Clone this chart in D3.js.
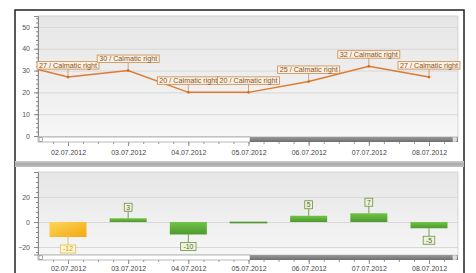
<!DOCTYPE html>
<html>
<head>
<meta charset="utf-8">
<script src="https://cdn.jsdelivr.net/npm/d3@7"></script>
<style>
  html, body { margin: 0; padding: 0; background: #fff; }
  svg { display: block; font-family: "Liberation Sans", Arial, sans-serif; }
</style>
</head>
<body>
<svg width="476" height="273"></svg>
<script>
// ---- data ----
const lineDates = ['01.07.2012', '02.07.2012', '03.07.2012', '04.07.2012', '05.07.2012', '06.07.2012', '07.07.2012', '08.07.2012'];
const lineValues = [34, 27, 30, 20, 20, 25, 32, 27];
const lineLabelSuffix = ' / Calmatic right';
const barDates = ['02.07.2012', '03.07.2012', '04.07.2012', '05.07.2012', '06.07.2012', '07.07.2012', '08.07.2012'];
const barValues = [-12, 3, -10, 0, 5, 7, -5];
const barKinds = ['warn', 'ok', 'ok', 'ok', 'ok', 'ok', 'ok'];
const topTicks = [0, 10, 20, 30, 40, 50];
const bottomTicks = [-20, 0, 20];
const tickDates = ['02.07.2012', '03.07.2012', '04.07.2012', '05.07.2012', '06.07.2012', '07.07.2012', '08.07.2012'];

const parse = d3.timeParse('%d.%m.%Y');
const fmt = d3.timeFormat('%d.%m.%Y');

const svg = d3.select('svg');
const defs = svg.append('defs');

function grad(id, stops, x2 = 0, y2 = 1) {
  const g = defs.append('linearGradient').attr('id', id)
    .attr('x1', 0).attr('y1', 0).attr('x2', x2).attr('y2', y2);
  stops.forEach(([o, c]) => g.append('stop').attr('offset', o).attr('stop-color', c));
}
grad('plotBg', [[0, '#e6e6e6'], [1, '#f6f6f6']]);
grad('sep', [[0, '#d0d0d0'], [0.5, '#a8a8a8'], [1, '#c4c4c4']]);
grad('scrollDark', [[0, '#9a9a9a'], [1, '#6e6e6e']]);
grad('green', [[0, '#72c24a'], [1, '#4c9a2c']]);
grad('yellow', [[0, '#fcd65a'], [1, '#f4a810']], 1, 1);

const L = 38, R = 458;

// outer frame
svg.append('rect')
  .attr('x', 15).attr('y', 10).attr('width', 449).attr('height', 280)
  .attr('fill', '#fff').attr('stroke', '#222').attr('stroke-width', 1.5);

const x = d3.scaleTime()
  .domain([parse('02.07.2012'), parse('08.07.2012')])
  .range([68, 429]);

function panel(top, bottom, y, yTicks, minorStep, labelY, clipId) {
  const g = svg.append('g');
  g.append('rect').attr('x', L).attr('y', top).attr('width', R - L).attr('height', bottom - top)
    .attr('fill', 'url(#plotBg)').attr('stroke', '#d4d4d4');
  g.append('clipPath').attr('id', clipId).append('rect')
    .attr('x', L).attr('y', top).attr('width', R - L).attr('height', bottom - top);

  // grid
  g.append('g').selectAll('line').data(yTicks).join('line')
    .attr('x1', L).attr('x2', R).attr('y1', d => y(d) + 0.5).attr('y2', d => y(d) + 0.5)
    .attr('stroke', '#d8d8d8');

  // y axis
  const ya = g.append('g').attr('transform', `translate(${L},0)`)
    .call(d3.axisLeft(y).tickValues(yTicks).tickSize(4).tickPadding(4));
  const [d0, d1] = y.domain();
  const minors = d3.range(Math.ceil(d0 / minorStep) * minorStep, d1, minorStep);
  ya.call(a => a.append('g').selectAll('line').data(minors).join('line')
    .attr('x1', -2).attr('x2', 0).attr('y1', d => y(d) + 0.5).attr('y2', d => y(d) + 0.5)
    .attr('stroke', '#888'));
  ya.select('.domain').attr('stroke', '#888');
  ya.selectAll('.tick line').attr('stroke', '#888');
  ya.selectAll('.tick text').attr('fill', '#555').attr('font-size', 7);

  // scrollbar
  const sb = g.append('g');
  sb.append('rect').attr('x', L).attr('y', bottom).attr('width', 212).attr('height', 5)
    .attr('fill', '#fff').attr('stroke', '#9a9a9a').attr('stroke-width', 0.7);
  sb.append('rect').attr('x', L + 212).attr('y', bottom).attr('width', R - L - 212).attr('height', 5)
    .attr('fill', 'url(#scrollDark)');
  sb.append('rect').attr('x', L + 1).attr('y', bottom + 0.8).attr('width', 3.5).attr('height', 3.5)
    .attr('fill', 'none').attr('stroke', '#777').attr('stroke-width', 0.6);
  sb.append('rect').attr('x', R - 5).attr('y', bottom + 0.8).attr('width', 3.5).attr('height', 3.5)
    .attr('fill', '#ddd').attr('stroke', '#eee').attr('stroke-width', 0.6);

  // x axis ticks + labels
  const xa = g.append('g').attr('transform', `translate(0,${bottom + 5})`)
    .call(d3.axisBottom(x).tickValues(tickDates.map(parse)).tickFormat(fmt).tickSize(4).tickPadding(labelY));
  xa.select('.domain').remove();
  xa.selectAll('.tick line').attr('stroke', '#888');
  xa.selectAll('.tick text').attr('fill', '#444').attr('font-size', 7);
  const minorX = d3.timeHour.every(6).range(parse('01.07.2012'), parse('09.07.2012'))
    .filter(d => x(d) > L + 2 && x(d) < R - 2);
  xa.append('g').selectAll('line').data(minorX).join('line')
    .attr('x1', d => x(d) + 0.5).attr('x2', d => x(d) + 0.5).attr('y1', 0).attr('y2', 2)
    .attr('stroke', '#999');
  return g;
}

// ---- top line chart ----
const yTop = d3.scaleLinear().domain([0, 55]).range([136, 16]);
const gTop = panel(16, 137, yTop, topTicks, 2, 4, 'clipTop');

const lineData = lineDates.map((d, i) => ({ date: parse(d), value: lineValues[i] }));
gTop.append('path')
  .datum(lineData)
  .attr('clip-path', 'url(#clipTop)')
  .attr('fill', 'none').attr('stroke', '#e07a2e').attr('stroke-width', 1.5)
  .attr('d', d3.line().x(d => x(d.date)).y(d => yTop(d.value)));

const lbl = gTop.append('g').selectAll('g')
  .data(lineData.filter(d => x(d.date) > L))
  .join('g')
  .attr('transform', d => `translate(${x(d.date)},${yTop(d.value)})`);
lbl.append('line').attr('x1', 0).attr('x2', 0).attr('y1', 0).attr('y2', -8)
  .attr('stroke', '#d88a4a').attr('stroke-width', 0.8);
lbl.append('circle').attr('r', 1.3).attr('fill', '#d06a20');
lbl.append('rect').attr('x', -31).attr('y', -15.5).attr('width', 62).attr('height', 7.5)
  .attr('fill', '#fbf1e4').attr('stroke', '#c98a50').attr('stroke-width', 0.8);
lbl.append('text').attr('y', -9.5).attr('text-anchor', 'middle')
  .attr('font-size', 6.8).attr('fill', '#8a5524')
  .attr('textLength', 58).attr('lengthAdjust', 'spacingAndGlyphs')
  .text(d => d.value + lineLabelSuffix);

// separator
svg.append('rect').attr('x', 15).attr('y', 161).attr('width', 449).attr('height', 6)
  .attr('fill', 'url(#sep)');

// ---- bottom bar chart ----
const yBot = d3.scaleLinear().domain([-26, 40]).range([254.5, 172]);
const gBot = panel(172, 255, yBot, bottomTicks, 4, 2, 'clipBot');

const barData = barDates.map((d, i) => ({ date: parse(d), value: barValues[i], kind: barKinds[i] }));
const bw = 37;
const bars = gBot.append('g').selectAll('g').data(barData).join('g')
  .attr('transform', d => `translate(${x(d.date)},0)`);
bars.append('rect')
  .attr('x', -bw / 2)
  .attr('y', d => yBot(Math.max(0, d.value)))
  .attr('width', bw)
  .attr('height', d => Math.max(1, Math.abs(yBot(d.value) - yBot(0))))
  .attr('fill', d => d.kind === 'warn' ? 'url(#yellow)' : 'url(#green)')
  .attr('stroke', d => d.value === 0 ? '#3f8a25' : 'none')
  .attr('stroke-width', 0.6);

const bl = bars.filter(d => d.value !== 0).append('g')
  .attr('transform', d => `translate(0,${d.value > 0 ? yBot(d.value) - 7 : yBot(d.value) + 8})`);
bl.append('line').attr('x1', 0).attr('x2', 0)
  .attr('y1', 0).attr('y2', d => d.value > 0 ? 7 : -8)
  .attr('stroke', d => d.kind === 'warn' ? '#d8b040' : '#5a8a30').attr('stroke-width', 0.8);
bl.each(function(d) {
  const t = String(d.value);
  const w = 4 + t.length * 3.8;
  const g = d3.select(this);
  const y0 = d.value > 0 ? -8 : 0;
  g.append('rect').attr('x', -w / 2).attr('y', y0).attr('width', w).attr('height', 8)
    .attr('fill', d.kind === 'warn' ? '#fff6cc' : '#eef4dc')
    .attr('stroke', d.kind === 'warn' ? '#dcc060' : '#6e8f40').attr('stroke-width', 0.8);
  g.append('text').attr('y', y0 + 6.3).attr('text-anchor', 'middle')
    .attr('font-size', 6.8).attr('fill', d.kind === 'warn' ? '#c89a20' : '#4d6a26')
    .text(t);
});
</script>
</body>
</html>
